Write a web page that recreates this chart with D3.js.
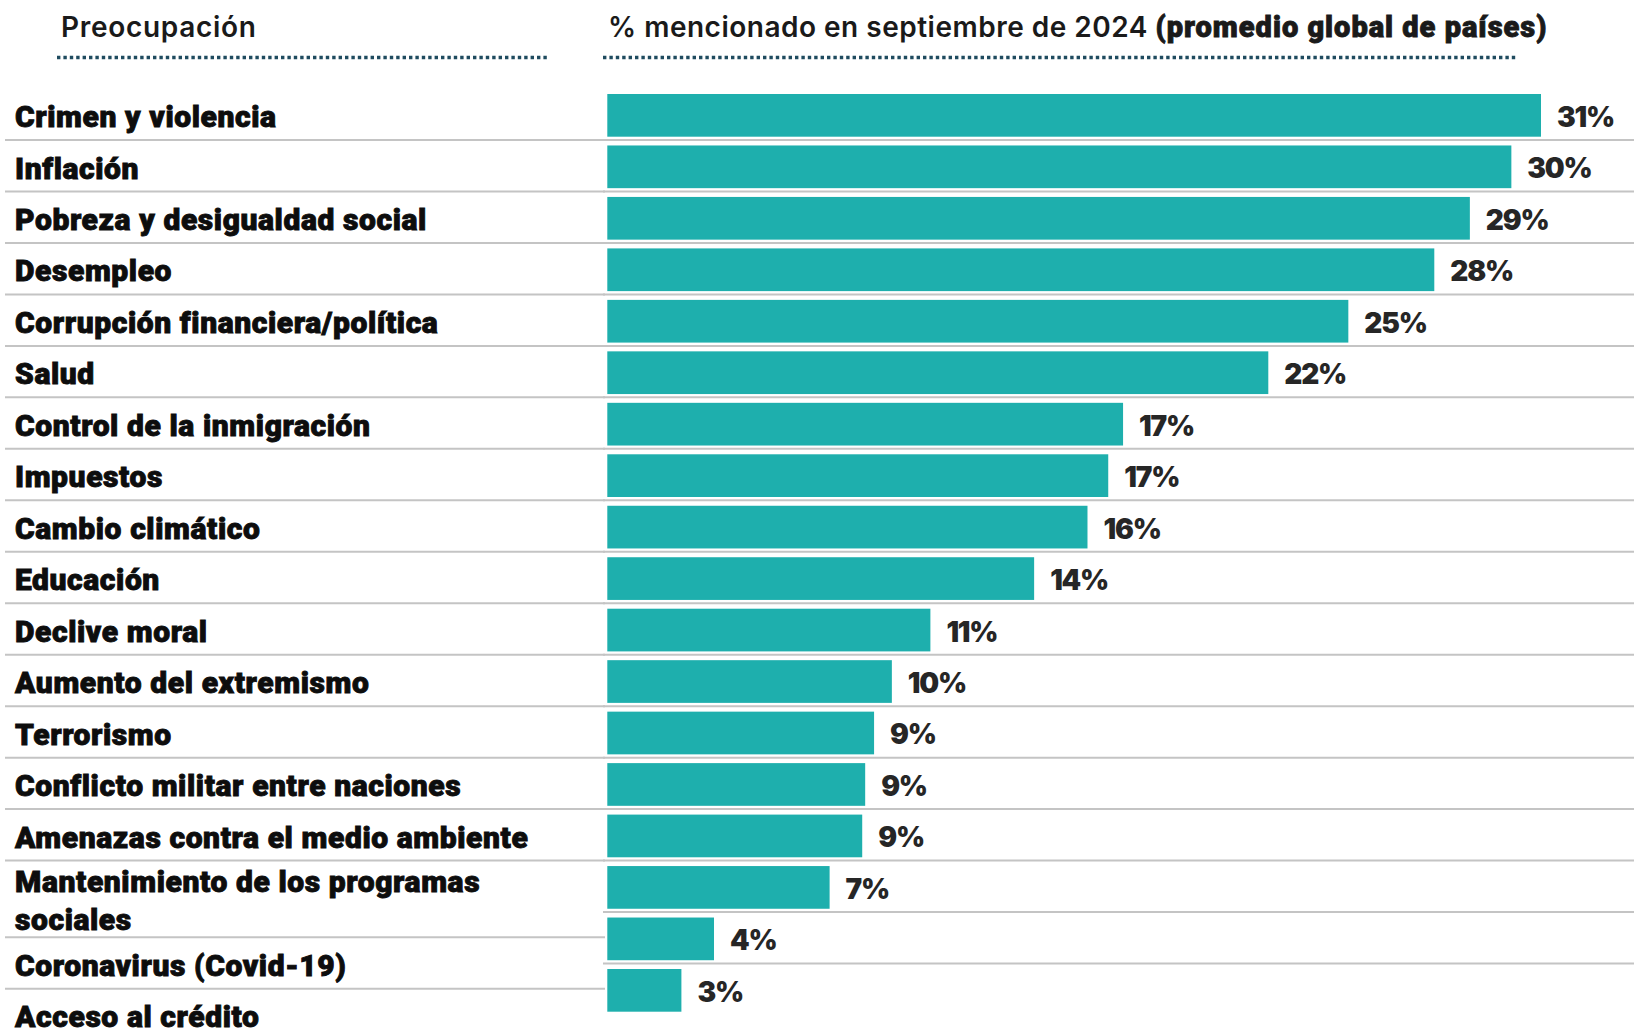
<!DOCTYPE html>
<html>
<head>
<meta charset="utf-8">
<script src="https://cdn.jsdelivr.net/npm/d3@7"></script>
<style>
  html, body { margin: 0; padding: 0; background: #ffffff; }
  svg { display: block; }
</style>
</head>
<body>
<svg id="chart" width="1634" height="1030"></svg>
<script>
const categories = [
  "Crimen y violencia",
  "Inflación",
  "Pobreza y desigualdad social",
  "Desempleo",
  "Corrupción financiera/política",
  "Salud",
  "Control de la inmigración",
  "Impuestos",
  "Cambio climático",
  "Educación",
  "Declive moral",
  "Aumento del extremismo",
  "Terrorismo",
  "Conflicto militar entre naciones",
  "Amenazas contra el medio ambiente",
  "Mantenimiento de los programas sociales",
  "Coronavirus (Covid-19)",
  "Acceso al crédito"
];
const values = [31.5, 30.5, 29.1, 27.9, 25.0, 22.3, 17.4, 16.9, 16.2, 14.4, 10.9, 9.6, 9.0, 8.7, 8.6, 7.5, 3.6, 2.5];
const valueLabels = ["31%", "30%", "29%", "28%", "25%", "22%", "17%", "17%", "16%", "14%", "11%", "10%", "9%", "9%", "9%", "7%", "4%", "3%"];
const wrappedLabels = {
  "Mantenimiento de los programas sociales": ["Mantenimiento de los programas", "sociales"]
};
const headerLeft = "Preocupación";
const headerRightRegular = "% mencionado en septiembre de 2024 ";
const headerRightBold = "(promedio global de países)";

(function () {
const svg = d3.select("#chart");
const W = 1634;

const x = d3.scaleLinear().domain([0, 31.5]).range([607.3, 1541]);
const y = d3.scaleBand().domain(categories).range([94, 1011.7]).paddingInner(0.1704).paddingOuter(0);

const labelFont = "Roboto, 'Liberation Sans', sans-serif";
const headFont = "Inter, Roboto, sans-serif";
const numFont = "Inter, Roboto, sans-serif";

// Headers
svg.append("text")
  .attr("x", 61).attr("y", 36.5)
  .attr("font-family", headFont).attr("font-weight", 600).attr("font-size", 28)
  .attr("letter-spacing", 0.7)
  .attr("fill", "#1a1a1a")
  .text(headerLeft);

const hr = svg.append("text")
  .attr("x", 608).attr("y", 36.5)
  .attr("font-family", headFont).attr("font-weight", 600).attr("font-size", 28)
  .attr("fill", "#1a1a1a");
hr.append("tspan").attr("letter-spacing", 0.5).text(headerRightRegular);
hr.append("tspan")
  .attr("font-family", labelFont).attr("font-weight", 900).attr("font-size", 29)
  .attr("letter-spacing", 1.0)
  .attr("stroke", "#1a1a1a").attr("stroke-width", 0.9)
  .text(headerRightBold);

// dotted rules under headers
svg.append("line").attr("x1", 57).attr("x2", 547).attr("y1", 57.5).attr("y2", 57.5)
  .attr("stroke", "#1f4b5f").attr("stroke-width", 3.3).attr("stroke-dasharray", "3.4,3");
svg.append("line").attr("x1", 603).attr("x2", 1516).attr("y1", 57.5).attr("y2", 57.5)
  .attr("stroke", "#1f4b5f").attr("stroke-width", 3.3).attr("stroke-dasharray", "3.4,3");

// Right side separators
svg.append("g").selectAll("line")
  .data(categories.slice(0, -1))
  .join("line")
  .attr("x1", 603).attr("x2", W)
  .attr("y1", d => y(d) + y.bandwidth() + 3.3)
  .attr("y2", d => y(d) + y.bandwidth() + 3.3)
  .attr("stroke", "#c4c4c4").attr("stroke-width", 2);

// Bars
svg.append("g").selectAll("rect")
  .data(categories)
  .join("rect")
  .attr("x", x(0))
  .attr("y", d => y(d))
  .attr("width", (d, i) => x(values[i]) - x(0))
  .attr("height", y.bandwidth())
  .attr("fill", "#1eafad");

// Value labels
svg.append("g").selectAll("text")
  .data(categories)
  .join("text")
  .attr("x", (d, i) => x(values[i]) + 16)
  .attr("y", d => y(d) + y.bandwidth() / 2 + 11.5)
  .attr("font-family", numFont).attr("font-weight", 900).attr("font-size", 28)
  .attr("letter-spacing", -1.2)
  .attr("fill", "#262626")
  .text((d, i) => valueLabels[i]);

// Left side labels with their own row layout
const rowStep = y.step();
let rowTop = y(categories[0]) + y.bandwidth() + 3.3 - rowStep;
const leftRows = categories.map(c => {
  const lines = wrappedLabels[c] || [c];
  const n = lines.length;
  const h = rowStep + (n - 1) * 25.1;
  const row = { c, lines, top: rowTop, h, base: rowTop + 38.5 - (n - 1) * 6.9 };
  rowTop += h;
  return row;
});

const lg = svg.append("g");
lg.selectAll("line")
  .data(leftRows.slice(0, -1))
  .join("line")
  .attr("x1", 5).attr("x2", 605)
  .attr("y1", d => d.top + d.h).attr("y2", d => d.top + d.h)
  .attr("stroke", "#c4c4c4").attr("stroke-width", 2);

const lt = lg.selectAll("text.lbl")
  .data(leftRows)
  .join("text")
  .attr("class", "lbl")
  .attr("font-family", labelFont).attr("font-weight", 900).attr("font-size", 30)
  .attr("letter-spacing", 0.6)
  .attr("fill", "#0d0d0d")
  .attr("stroke", "#0d0d0d").attr("stroke-width", 0.9);
lt.selectAll("tspan")
  .data(d => d.lines.map((l, k) => ({ l, k, base: d.base })))
  .join("tspan")
  .attr("x", 15)
  .attr("y", d => d.base + d.k * 37.4)
  .text(d => d.l);
})();
</script>
</body>
</html>
